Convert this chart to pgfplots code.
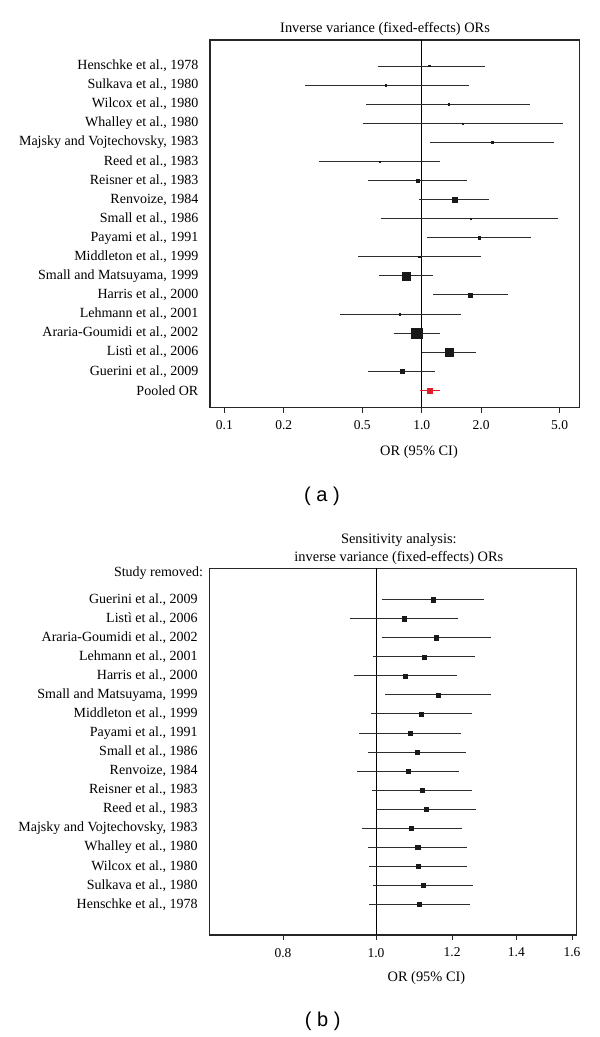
\documentclass[border=0pt]{standalone}
\usepackage{pgfplots}
\pgfplotsset{compat=1.18}
\usepackage{pgfplotstable}
\usepackage{fontspec}
\setmainfont{Liberation Serif}
\newfontfamily\capfont{Liberation Sans}
\definecolor{pooled}{RGB}{225,30,40}
\definecolor{cil}{RGB}{45,45,45}

% top panel: row, point estimate, marker half-size (pt)
\pgfplotstableread{
y est ms
-1 1.09 0.7
-2 0.657 0.7
-3 1.364 0.6
-4 1.606 0.5
-5 2.28 1.0
-6 0.615 0.6
-7 0.954 1.5
-8 1.475 2.5
-9 1.763 0.5
-10 1.951 1.1
-11 0.972 0.6
-12 0.839 4.0
-13 1.757 2.2
-14 0.774 0.7
-15 0.943 5.2
-16 1.375 4.0
-17 0.797 2.3
}\topdata

% bottom panel: row, point estimate
\pgfplotstableread{
y est
-1 1.147
-2 1.0695
-3 1.155
-4 1.122
-5 1.072
-6 1.161
-7 1.114
-8 1.085
-9 1.103
-10 1.080
-11 1.117
-12 1.128
-13 1.087
-14 1.105
-15 1.106
-16 1.119
-17 1.109
}\botdata

\pgfplotsset{
  fp/.style={
    scale only axis,
    axis line style={draw=black!85, line width=1.1pt},
    tick align=outside,
    xtick pos=left, ytick pos=left,
    major tick length=5.5pt,
    xminorticks=false, yminorticks=false,
    ytick style={draw=none},
    xtick style={line width=0.9pt, draw=black!85},
    xticklabel style={font=\fontsize{13.5}{16}\selectfont, yshift=-4pt},
    yticklabel style={font=\fontsize{14}{17}\selectfont, anchor=east, inner sep=0pt, xshift=-6pt},
    /pgf/number format/assume math mode=true,
    unbounded coords=jump,
    clip=false,
  }
}

\begin{document}
\begin{tikzpicture}[x=1pt,y=1pt]
\useasboundingbox (0,0) rectangle (600,1037);

% ---------------- (a) ----------------
\begin{axis}[fp,
  at={(210pt,629.5pt)}, anchor=south west,
  width=369.3pt, height=367.5pt,
  xmode=log, xmin=0.08462, xmax=6.286,
  ymin=-18.9, ymax=0.363,
  xtick={0.1,0.2,0.5,1,2,5},
  xticklabels={0.1,0.2,0.5,1.0,2.0,5.0},
  ytick={-1,-2,...,-18},
  yticklabels={{Henschke et al., 1978},{Sulkava et al., 1980},{Wilcox et al., 1980},{Whalley et al., 1980},{Majsky and Vojtechovsky, 1983},{Reed et al., 1983},{Reisner et al., 1983},{Renvoize, 1984},{Small et al., 1986},{Payami et al., 1991},{Middleton et al., 1999},{Small and Matsuyama, 1999},{Harris et al., 2000},{Lehmann et al., 2001},{Araria-Goumidi et al., 2002},{Listì et al., 2006},{Guerini et al., 2009},{Pooled OR}},
  title={Inverse variance (fixed-effects) ORs},
  every axis title/.style={at={(axis description cs:0.474,1)}, anchor=base, yshift=7.4pt, inner sep=0pt, font=\fontsize{14.4}{17}\selectfont},
  xlabel={OR (95\% CI)},
  every axis x label/.style={at={(axis description cs:0.566,0)}, anchor=base, yshift=-48.5pt, inner sep=0pt, font=\fontsize{14.4}{17}\selectfont},
]
\addplot[black, line width=0.9pt] coordinates {(1,-18.9) (1,0.363)};
\addplot[cil, line width=0.9pt] coordinates {
(0.603,-1) (2.10,-1) (nan,nan)
(0.256,-2) (1.73,-2) (nan,nan)
(0.522,-3) (3.55,-3) (nan,nan)
(0.503,-4) (5.18,-4) (nan,nan)
(1.105,-5) (4.69,-5) (nan,nan)
(0.301,-6) (1.24,-6) (nan,nan)
(0.533,-7) (1.70,-7) (nan,nan)
(0.972,-8) (2.185,-8) (nan,nan)
(0.620,-9) (4.92,-9) (nan,nan)
(1.067,-10) (3.59,-10) (nan,nan)
(0.477,-11) (2.00,-11) (nan,nan)
(0.608,-12) (1.137,-12) (nan,nan)
(1.145,-13) (2.73,-13) (nan,nan)
(0.387,-14) (1.582,-14) (nan,nan)
(0.721,-15) (1.24,-15) (nan,nan)
(1.0035,-16) (1.877,-16) (nan,nan)
(0.533,-17) (1.164,-17)
};
\addplot[scatter, only marks, mark=square*,
  scatter/use mapped color={draw=black!90, fill=black!90},
  visualization depends on={\thisrow{ms} \as \msz},
  scatter/@pre marker code/.append style={/tikz/mark size=\msz}]
  table[x=est, y=y] {\topdata};
\addplot[pooled, line width=0.9pt] coordinates {(0.977,-18) (1.24,-18)};
\addplot[only marks, mark=square*, mark size=2.5pt, draw=pooled, fill=pooled] coordinates {(1.102,-18)};
\end{axis}

\node[font=\capfont\fontsize{20}{24}\selectfont] at (322,541) {( a )};

% ---------------- (b) ----------------
\begin{axis}[fp,
  at={(209.3pt,102pt)}, anchor=south west,
  width=367.4pt, height=366.7pt,
  xmode=log, xmin=0.6705, xmax=1.618,
  ymin=-18.61, ymax=0.649,
  xtick={0.8,1.0,1.2,1.4,1.6},
  xticklabels={0.8,1.0,1.2,1.4,1.6},
  ytick={-1,-2,...,-17},
  yticklabels={{Guerini et al., 2009},{Listì et al., 2006},{Araria-Goumidi et al., 2002},{Lehmann et al., 2001},{Harris et al., 2000},{Small and Matsuyama, 1999},{Middleton et al., 1999},{Payami et al., 1991},{Small et al., 1986},{Renvoize, 1984},{Reisner et al., 1983},{Reed et al., 1983},{Majsky and Vojtechovsky, 1983},{Whalley et al., 1980},{Wilcox et al., 1980},{Sulkava et al., 1980},{Henschke et al., 1978}},
  title={Sensitivity analysis:\\inverse variance (fixed-effects) ORs},
  every axis title/.style={at={(axis description cs:0.516,1)}, anchor=south, align=center, yshift=3.2pt, inner sep=0pt, font=\fontsize{14.4}{18}\selectfont},
  xlabel={OR (95\% CI)},
  every axis x label/.style={at={(axis description cs:0.591,0)}, anchor=base, yshift=-46.5pt, inner sep=0pt, font=\fontsize{14.4}{17}\selectfont},
]
\addplot[black, line width=0.9pt] coordinates {(1,-18.61) (1,0.649)};
\addplot[cil, line width=0.9pt] coordinates {
(1.0137,-1) (1.295,-1) (nan,nan)
(0.9395,-2) (1.216,-2) (nan,nan)
(1.0137,-3) (1.317,-3) (nan,nan)
(0.992,-4) (1.267,-4) (nan,nan)
(0.9486,-5) (1.213,-5) (nan,nan)
(1.0218,-6) (1.317,-6) (nan,nan)
(0.9874,-7) (1.259,-7) (nan,nan)
(0.961,-8) (1.225,-8) (nan,nan)
(0.980,-9) (1.241,-9) (nan,nan)
(0.9555,-10) (1.221,-10) (nan,nan)
(0.9905,-11) (1.259,-11) (nan,nan)
(1.0007,-12) (1.271,-12) (nan,nan)
(0.967,-13) (1.228,-13) (nan,nan)
(0.980,-14) (1.245,-14) (nan,nan)
(0.984,-15) (1.245,-15) (nan,nan)
(0.9936,-16) (1.262,-16) (nan,nan)
(0.984,-17) (1.253,-17)
};
\addplot[only marks, mark=square*, mark size=2.1pt, draw=black!90, fill=black!90]
  table[x=est, y=y] {\botdata};
\node[anchor=base east, inner sep=0pt, font=\fontsize{14}{17}\selectfont]
  at (axis description cs:0,1) [xshift=-6pt, yshift=-8.2pt] {Study removed:};
\end{axis}

\node[font=\capfont\fontsize{20}{24}\selectfont] at (322.7,15.3) {( b )};
\end{tikzpicture}
\end{document}
